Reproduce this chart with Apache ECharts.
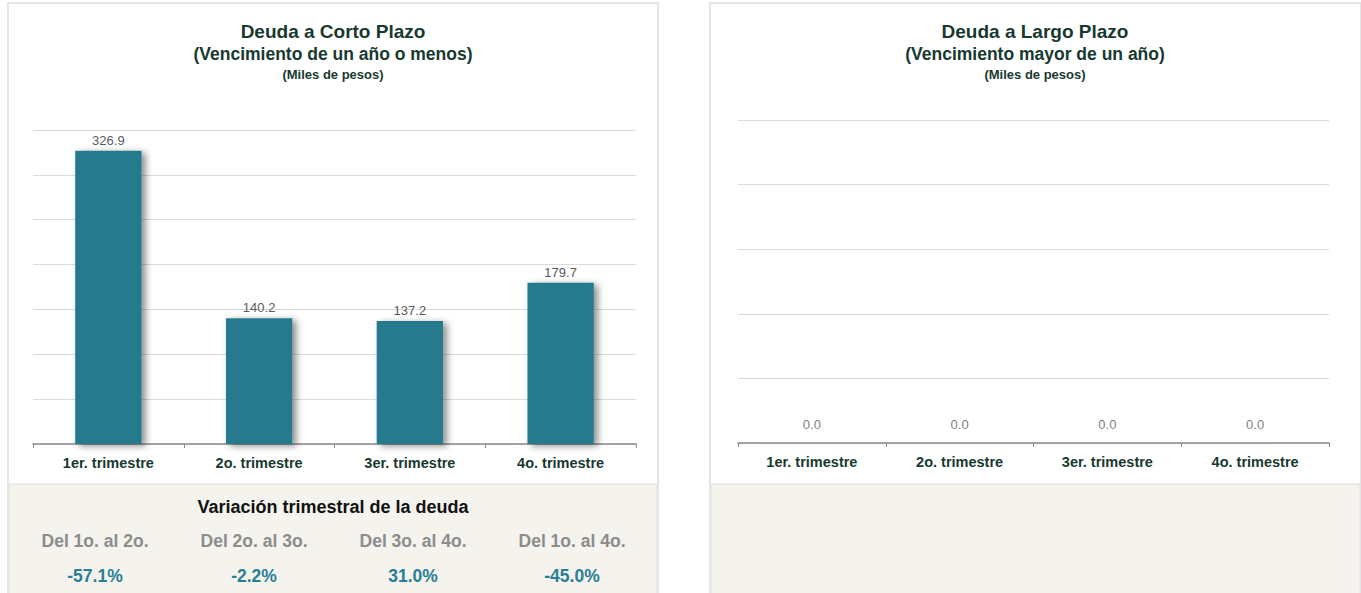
<!DOCTYPE html>
<html>
<head>
<meta charset="utf-8">
<script src="https://cdn.jsdelivr.net/npm/echarts@6/dist/echarts.min.js"></script>
<style>
html,body{margin:0;padding:0;background:#fff;}
#chart{width:1361px;height:593px;}
</style>
</head>
<body>
<div id="chart"></div>
<script>
var categories = ['1er. trimestre', '2o. trimestre', '3er. trimestre', '4o. trimestre'];
var cortoPlazo = [326.9, 140.2, 137.2, 179.7];
var largoPlazo = [0, 0, 0, 0];
var variationTitle = 'Variación trimestral de la deuda';
var variationHeaders = ['Del 1o. al 2o.', 'Del 2o. al 3o.', 'Del 3o. al 4o.', 'Del 1o. al 4o.'];
var variationValues = ['-57.1%', '-2.2%', '31.0%', '-45.0%'];
var titlesLeft = ['Deuda a Corto Plazo', '(Vencimiento de un año o menos)', '(Miles de pesos)'];
var titlesRight = ['Deuda a Largo Plazo', '(Vencimiento mayor de un año)', '(Miles de pesos)'];

var FONT = '"Liberation Sans", Arial, sans-serif';
var TITLE_COLOR = '#17392f';
var BAR_COLOR = '#287a8e';

var chart = echarts.init(document.getElementById('chart'), null, {renderer: 'svg'});

function panel(x, w) {
  return [
    {type: 'rect', z: -20, silent: true, shape: {x: x, y: 3, width: w, height: 600},
     style: {fill: '#ffffff', stroke: '#dedede', lineWidth: 1.5}},
    {type: 'rect', z: -19, silent: true, shape: {x: x + 1, y: 484, width: w - 2, height: 120},
     style: {fill: '#f4f3ee', stroke: '#e6e6e6', lineWidth: 1.5}}
  ];
}
function titleTexts(cx, t) {
  return [
    {type: 'text', z: 10, x: cx, y: 31, style: {text: t[0], align: 'center', verticalAlign: 'middle', font: 'bold 19px ' + FONT, fill: TITLE_COLOR}},
    {type: 'text', z: 10, x: cx, y: 54, style: {text: t[1], align: 'center', verticalAlign: 'middle', font: 'bold 17.5px ' + FONT, fill: TITLE_COLOR}},
    {type: 'text', z: 10, x: cx, y: 74, style: {text: t[2], align: 'center', verticalAlign: 'middle', font: 'bold 13px ' + FONT, fill: TITLE_COLOR}}
  ];
}

var graphics = [].concat(panel(8, 650), panel(710, 651), titleTexts(333, titlesLeft), titleTexts(1035, titlesRight));
graphics.push({type: 'text', z: 10, x: 333, y: 507, style: {text: variationTitle, align: 'center', verticalAlign: 'middle', font: 'bold 18px ' + FONT, fill: '#111111'}});
var colCenters = [95, 254, 413, 572];
for (var i = 0; i < variationHeaders.length; i++) {
  graphics.push({type: 'text', z: 10, x: colCenters[i], y: 541, style: {text: variationHeaders[i], align: 'center', verticalAlign: 'middle', font: 'bold 17.5px ' + FONT, fill: '#8c8c8c'}});
  graphics.push({type: 'text', z: 10, x: colCenters[i], y: 576, style: {text: variationValues[i], align: 'center', verticalAlign: 'middle', font: 'bold 17.5px ' + FONT, fill: '#2a7f95'}});
}

function xAxis(gi) {
  return {
    type: 'category', gridIndex: gi, data: categories,
    axisLine: {lineStyle: {color: '#8a8a8a', width: 1.5}},
    axisTick: {show: true, length: 4, lineStyle: {color: '#8a8a8a'}},
    axisLabel: {margin: 11, fontFamily: FONT, fontWeight: 'bold', fontSize: 14.5, color: TITLE_COLOR}
  };
}
function yAxis(gi, max, interval) {
  return {
    type: 'value', gridIndex: gi, min: 0, max: max, interval: interval,
    axisLine: {show: false}, axisTick: {show: false}, axisLabel: {show: false},
    splitLine: {lineStyle: {color: '#dcdcdc', width: 1}}
  };
}

var option = {
  animation: false,
  backgroundColor: '#ffffff',
  graphic: graphics,
  grid: [
    {left: 33, right: 1361 - 636, top: 130, bottom: 593 - 444},
    {left: 738, right: 1361 - 1329, top: 120, bottom: 593 - 443}
  ],
  xAxis: [xAxis(0), xAxis(1)],
  yAxis: [yAxis(0, 350, 50), yAxis(1, 1, 0.2)],
  series: [
    {
      type: 'bar', xAxisIndex: 0, yAxisIndex: 0, data: cortoPlazo, barWidth: '44%',
      itemStyle: {color: BAR_COLOR, shadowBlur: 7, shadowColor: 'rgba(0,0,0,0.45)', shadowOffsetX: 4, shadowOffsetY: 2},
      label: {show: true, position: 'top', distance: 4, fontFamily: FONT, fontSize: 13, color: '#595959',
              formatter: function (p) { return p.value.toFixed(1); }}
    },
    {
      type: 'bar', xAxisIndex: 1, yAxisIndex: 1, data: largoPlazo, barWidth: '44%',
      itemStyle: {color: BAR_COLOR},
      label: {show: true, position: 'top', distance: 12, fontFamily: FONT, fontSize: 13, color: '#7f7f7f',
              formatter: function (p) { return p.value.toFixed(1); }}
    }
  ]
};
chart.setOption(option);
</script>
</body>
</html>
